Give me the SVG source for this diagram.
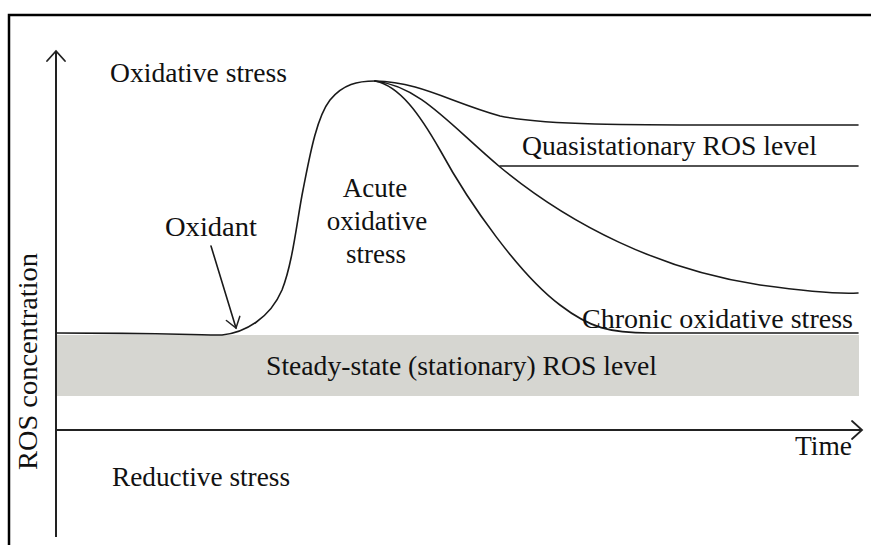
<svg xmlns="http://www.w3.org/2000/svg" width="871" height="545" viewBox="0 0 871 545">
<style>
text{font-family:"Liberation Serif","Times New Roman",serif;font-size:27px;fill:#111}
.frame{stroke:#000;stroke-width:2.5;fill:none}
.axis{stroke:#222;stroke-width:2;fill:none}
.curve{stroke:#1a1a1a;stroke-width:1.6;fill:none;stroke-linecap:round;stroke-linejoin:round}
.head{stroke:#222;stroke-width:1.8;fill:none;stroke-linecap:round;stroke-linejoin:miter}
</style>
<defs>
<marker id="big" markerUnits="userSpaceOnUse" markerWidth="24" markerHeight="24" viewBox="-12 -12 24 24" refX="0" refY="0" orient="auto" overflow="visible">
<path class="head" d="M-10,-9 L0,0 L-10,9"/>
</marker>
<marker id="small" markerUnits="userSpaceOnUse" markerWidth="24" markerHeight="24" viewBox="-12 -12 24 24" refX="0" refY="0" orient="auto" overflow="visible">
<path class="head" d="M-10,-7 L0,0 L-10,7" style="stroke-width:1.5"/>
</marker>
</defs>
<rect width="871" height="545" fill="#fff"/>
<g id="frame">
<path class="frame" d="M9,545 L9,15 L871,15"/>
</g>
<g id="band">
<rect x="57" y="335" width="802" height="61" fill="#d6d6d1"/>
</g>
<g id="axes">
<path class="axis" d="M56,537 L56,51" marker-end="url(#big)"/>
<path class="axis" d="M56,430 L862,430" marker-end="url(#big)"/>
</g>
<g id="connectors">
<path class="curve" d="M57,333 C150,333 200,335 222,335 C245,333 270,318 282,290 C293,262 297,220 303,190 C309,160 316,118 330,100 C343,84 358,81 375,81"/>
<path class="curve" d="M375,81 C420,82 450,102 500,116 C550,126 620,125 858,125"/>
<path class="curve" d="M375,81 C420,86 450,125 500,167 C570,225 660,270 760,285 C810,292 840,294 858,293"/>
<path class="curve" d="M375,81 C400,86 420,115 440,150 C470,205 520,275 560,305 C590,328 610,333 650,333 L858,333"/>
<path class="curve" d="M500,166 L858,166"/>
<path class="curve" d="M211,246 L236,328" marker-end="url(#small)"/>
</g>
<g id="label-oxidative-stress"><text x="110" y="82" textLength="177" lengthAdjust="spacingAndGlyphs">Oxidative stress</text></g>
<g id="label-oxidant"><text x="165" y="236" textLength="92" lengthAdjust="spacingAndGlyphs">Oxidant</text></g>
<g id="label-acute">
<text x="375" y="197" text-anchor="middle">Acute</text>
<text x="377" y="230" text-anchor="middle">oxidative</text>
<text x="376" y="263" text-anchor="middle">stress</text>
</g>
<g id="label-quasi"><text x="522" y="155" textLength="295" lengthAdjust="spacingAndGlyphs">Quasistationary ROS level</text></g>
<g id="label-chronic"><text x="582" y="328" textLength="271" lengthAdjust="spacingAndGlyphs">Chronic oxidative stress</text></g>
<g id="label-steady"><text x="266" y="375" textLength="391" lengthAdjust="spacingAndGlyphs">Steady-state (stationary) ROS level</text></g>
<g id="label-time"><text x="795" y="455" textLength="57" lengthAdjust="spacingAndGlyphs">Time</text></g>
<g id="label-reductive"><text x="112" y="486" textLength="178" lengthAdjust="spacingAndGlyphs">Reductive stress</text></g>
<g id="label-ros"><text transform="translate(37,361.5) rotate(-90)" text-anchor="middle" textLength="217" lengthAdjust="spacingAndGlyphs">ROS concentration</text></g>
</svg>
